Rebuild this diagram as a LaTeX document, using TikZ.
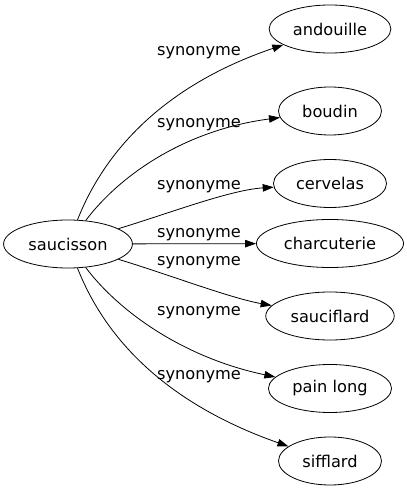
\documentclass[tikz,border=0pt]{standalone}
\usepackage{fontspec}
\setmainfont{DejaVu Sans}
\usepackage{tikz}
\usetikzlibrary{shapes.geometric, arrows.meta}
\tikzstyle{arrow} = [line width=0.8pt,->,>={Triangle[length=11pt,width=7.5pt]}]
\tikzstyle{word} = [ellipse, minimum width=103pt, minimum height=48pt, inner xsep=6pt, text centered, draw=black, line width=0.8pt, font=\fontsize{16.2pt}{19pt}\selectfont]
\tikzstyle{rel} = [inner sep=0pt, font=\fontsize{16.2pt}{19pt}\selectfont]

\begin{document}
\begin{tikzpicture}[x=1pt, y=1pt, node distance=72.5pt]
		\useasboundingbox (0,0) rectangle (407,491);
		\node (saucisson) [word] at (68,247) {saucisson};
		\node (andouille) [word] at (330,462) {andouille};
		\node (boudin) [word, below of=andouille, yshift=-9.5pt] {boudin};
		\node (cervelas) [word, below of=boudin] {cervelas};
		\node (charcuterie) [word, below of=cervelas, yshift=12.5pt] {charcuterie};
		\node (sauciflard) [word, below of=charcuterie] {sauciflard};
		\node (painlong) [word, below of=sauciflard] {pain long};
		\node (sifflard) [word, below of=painlong] {sifflard};
		\node (syn1) [rel] at (199,438) {synonyme};
		\node (syn2) [rel] at (199,366) {synonyme};
		\node (syn3) [rel] at (199,304.5) {synonyme};
		\node (syn4) [rel] at (199,256.5) {synonyme};
		\node (syn5) [rel] at (199,228) {synonyme};
		\node (syn6) [rel] at (199,178.5) {synonyme};
		\node (syn7) [rel] at (199,114.5) {synonyme};
		\draw [arrow] (saucisson) .. controls (105,341) and (165,406) .. (andouille);
		\draw [arrow] (saucisson) .. controls (120,316) and (185,361) .. (boudin);
		\draw [arrow] (saucisson) .. controls (170,278) and (230,301) .. (cervelas);
		\draw [arrow] (saucisson) -- (charcuterie);
		\draw [arrow] (saucisson) .. controls (170,216) and (230,193) .. (sauciflard);
		\draw [arrow] (saucisson) .. controls (120,178) and (185,133) .. (painlong);
		\draw [arrow] (saucisson) .. controls (105,153) and (165,88) .. (sifflard);
	\end{tikzpicture}
\end{document}
